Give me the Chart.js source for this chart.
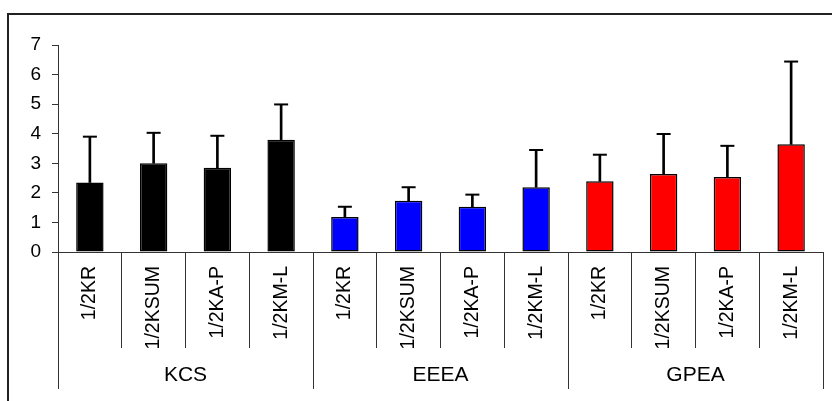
<!DOCTYPE html>
<html>
<head>
<meta charset="utf-8">
<script src="https://cdn.jsdelivr.net/npm/chart.js@4"></script>
<style>
  html, body { margin: 0; padding: 0; background: #fff; overflow: hidden; }
  #wrap { position: relative; width: 832px; height: 401px; overflow: hidden; }
  #frame { position: absolute; left: 7px; top: 13px; width: 900px; height: 500px;
           border-left: 2px solid #222; border-top: 2px solid #222; }
  canvas { position: absolute; left: 0; top: 0; }
</style>
</head>
<body>
<div id="wrap">
  <div id="frame"></div>
  <canvas id="c" width="832" height="401"></canvas>
</div>
<script>
// Groups and treatments along the x axis
const groups = ['KCS', 'EEEA', 'GPEA'];
const treatments = ['1/2KR', '1/2KSUM', '1/2KA-P', '1/2KM-L'];

// Means per group (one value per treatment)
const kcsMeans  = [2.35, 3.00, 2.85, 3.80];
const eeeaMeans = [1.18, 1.73, 1.53, 2.19];
const gpeaMeans = [2.39, 2.64, 2.54, 3.64];

// Upper error (standard deviation) per group
const kcsErr  = [1.55, 1.03, 1.08, 1.19];
const eeeaErr = [0.35, 0.46, 0.41, 1.26];
const gpeaErr = [0.90, 1.35, 1.05, 2.80];

// Group colours
const groupColors = ['#000000', '#0000ff', '#ff0000'];

// Y axis ticks
const yTicks = [0, 1, 2, 3, 4, 5, 6, 7];

const categories = groups.flatMap(() => treatments);
const means = [...kcsMeans, ...eeeaMeans, ...gpeaMeans];
const errs = [...kcsErr, ...eeeaErr, ...gpeaErr];
const uppers = means.map((m, i) => m + errs[i]);
const barColors = groups.flatMap((g, gi) => treatments.map(() => groupColors[gi]));

const FONT = 'Liberation Sans, Arial, sans-serif';

new Chart(document.getElementById('c'), {
  data: {
    labels: categories,
    datasets: [
      {
        type: 'line',
        data: uppers,
        showLine: false,
        pointStyle: 'line',
        pointRadius: 7,
        pointHoverRadius: 7,
        borderColor: '#000',
        borderWidth: 2,
        order: 0
      },
      {
        type: 'bar',
        data: means.map((m, i) => [m, uppers[i]]),
        backgroundColor: '#000',
        borderWidth: 0,
        barThickness: 2,
        grouped: false,
        order: 1
      },
      {
        type: 'bar',
        data: means,
        backgroundColor: barColors,
        borderColor: '#000',
        borderWidth: 1.5,
        borderSkipped: false,
        categoryPercentage: 1,
        barPercentage: 0.43,
        grouped: false,
        order: 2
      }
    ]
  },
  options: {
    responsive: false,
    animation: false,
    events: [],
    layout: { padding: { left: 0, top: 45, right: 3, bottom: 0 } },
    plugins: { legend: { display: false }, tooltip: { enabled: false } },
    scales: {
      y: {
        min: 0, max: 7,
        afterBuildTicks: s => { s.ticks = yTicks.map(v => ({ value: v })); },
        ticks: { padding: 11, color: '#000', font: { family: FONT, size: 19 } },
        grid: { drawOnChartArea: false, tickLength: 6, color: '#333' },
        border: { color: '#333', width: 1 },
        afterFit: s => { s.width = 58; }
      },
      x: {
        type: 'category',
        offset: true,
        grid: { offset: true, drawOnChartArea: false, tickLength: 96, color: '#333' },
        border: { color: '#333', width: 1 },
        ticks: {
          autoSkip: false, minRotation: 90, maxRotation: 90, padding: -82,
          color: '#000', font: { family: FONT, size: 19.5 }
        },
        afterFit: s => { s.height = 96; }
      },
      x2: {
        type: 'category',
        position: 'bottom',
        labels: groups,
        offset: true,
        grid: { offset: true, drawOnChartArea: false, tickLength: 41, color: '#333' },
        border: { display: false },
        ticks: { padding: -26, color: '#000', font: { family: FONT, size: 21 } },
        afterFit: s => { s.height = 53; }
      }
    }
  }
});
</script>
</body>
</html>
